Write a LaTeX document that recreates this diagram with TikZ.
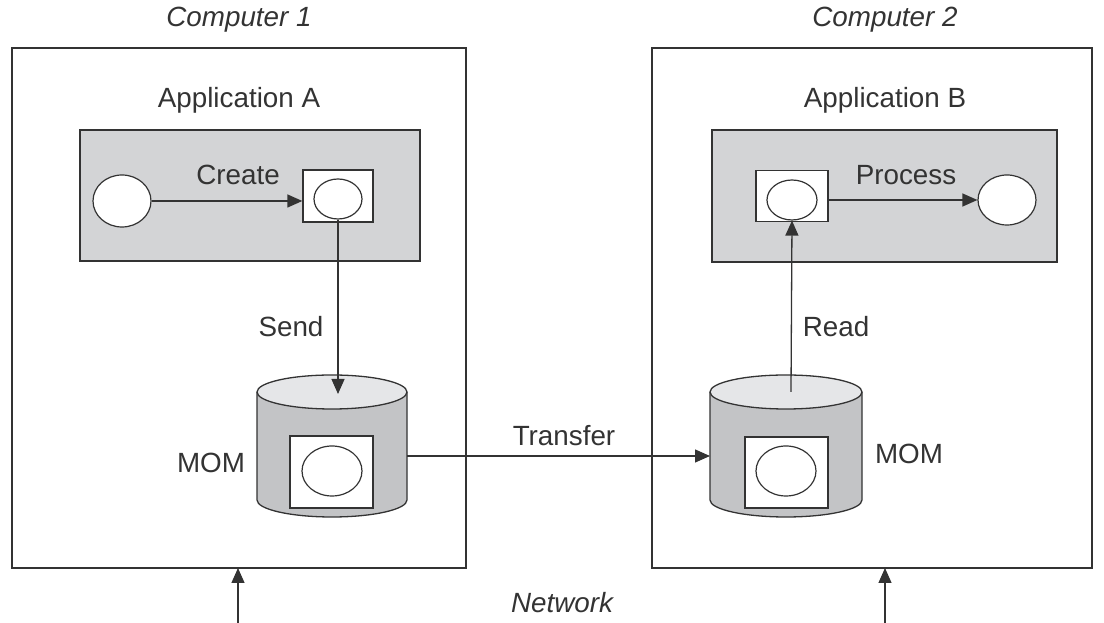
\documentclass[tikz,border=0pt]{standalone}
\usepackage{fontspec}
\setmainfont{Liberation Sans}
\usetikzlibrary{arrows.meta,shapes.geometric}
\definecolor{ink}{HTML}{333333}
\definecolor{appgray}{HTML}{D3D4D6}
\definecolor{cylside}{HTML}{C3C4C6}
\definecolor{cyltop}{HTML}{E5E6E8}
\tikzset{
  every node/.style={text=ink, font=\fontsize{27.8}{32}\selectfont},
  frame/.style={draw=ink, line width=1.4pt},
  appbox/.style={draw=ink, line width=1.4pt, fill=appgray},
  msgbox/.style={draw=ink, line width=1.4pt, fill=white},
  oval/.style={ellipse, draw=ink, line width=1.2pt, fill=white, inner sep=0pt},
  conn/.style={draw=ink, line width=1.3pt, -{Triangle[length=15pt,width=13pt]}},
  plain/.style={draw=ink, line width=1.3pt},
  lab/.style={inner sep=0pt, anchor=center},
}
\begin{document}
\begin{tikzpicture}[x=1pt,y=1pt]
\useasboundingbox (0,0) rectangle (1104,623);
% computer frames
\draw[frame] (12,55) rectangle (466,575);
\draw[frame] (652,55) rectangle (1092,575);
\node[lab] (comp1) at (239,603) {\itshape Computer 1};
\node[lab] (comp2) at (885,603) {\itshape Computer 2};
\node[lab] (appA) at (239,523) {Application A};
\node[lab] (appB) at (885,523) {Application B};
% application boxes
\draw[appbox] (80,362) rectangle (420,493);
\draw[appbox] (712,361) rectangle (1057,493);
% application A
\node[oval, minimum width=58, minimum height=52] (a1) at (122,422) {};
\node[draw=ink, line width=1.3pt, fill=white, minimum width=70, minimum height=52, inner sep=0pt] (amsg) at (338,427) {};
\node[oval, minimum width=48, minimum height=40] (a2) at (338,424) {};
\node[lab] (create) at (238,448) {Create};
% application B
\node[draw=ink, line width=1.3pt, fill=white, minimum width=72, minimum height=51, inner sep=0pt] (bmsg) at (792,427) {};
\node[oval, minimum width=50, minimum height=40] (b1) at (792,423) {};
\node[oval, minimum width=58, minimum height=50] (b2) at (1007,423) {};
\node[lab] (process) at (906,448) {Process};
% left cylinder
\fill[cylside] (257,231) -- (257,123) arc[start angle=180,end angle=360,x radius=75,y radius=17] -- (407,231) -- cycle;
\draw[plain] (257,231) -- (257,123) arc[start angle=180,end angle=360,x radius=75,y radius=17] -- (407,231);
\draw[plain, fill=cyltop] (332,231) ellipse [x radius=75, y radius=17];
\draw[msgbox] (290,115) rectangle (373,187);
\node[oval, minimum width=60, minimum height=50] (ma) at (332,152) {};
\coordinate (cylAtop) at (338,229);
\coordinate (cylAeast) at (407,167);
\node[lab] (momA) at (211,160) {MOM};
% right cylinder
\fill[cylside] (710,231) -- (710,123) arc[start angle=180,end angle=360,x radius=76,y radius=17] -- (862,231) -- cycle;
\draw[plain] (710,231) -- (710,123) arc[start angle=180,end angle=360,x radius=76,y radius=17] -- (862,231);
\draw[plain, fill=cyltop] (786,231) ellipse [x radius=76, y radius=17];
\draw[msgbox] (745,115) rectangle (828,186);
\node[oval, minimum width=60, minimum height=50] (mb) at (786,152) {};
\coordinate (cylBtop) at (791,231);
\coordinate (cylBwest) at (710,167);
\node[lab] (momB) at (909,169) {MOM};
% connectors
\draw[conn] (a1.east) -- (amsg.west |- a1.east);
\draw[conn] (bmsg.east |- b2.west) -- (b2.west);
\draw[conn] (a2.south) -- (cylAtop);
\node[lab] (send) at (291,296) {Send};
\draw[conn] (cylBtop) -- (b1.south);
\node[lab] (read) at (836,296) {Read};
\draw[conn] (cylAeast) -- (cylBwest);
\node[lab] (transfer) at (564,187) {Transfer};
% network
\coordinate (n1) at (238,0);
\coordinate (n2) at (885,0);
\draw[conn] (n1) -- (238,55);
\draw[conn] (n2) -- (885,55);
\node[lab] (net) at (562,20) {\itshape Network};
\end{tikzpicture}
\end{document}
